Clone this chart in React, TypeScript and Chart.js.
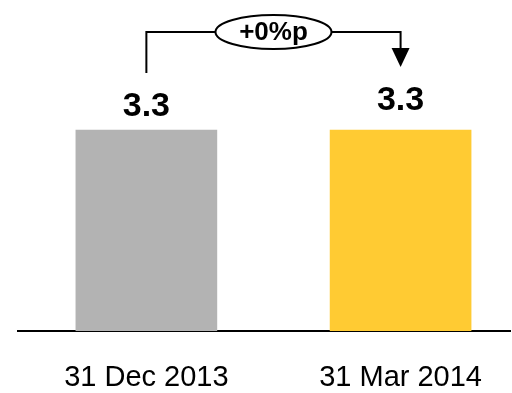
import React, { useEffect, useRef } from 'react';
import { Chart, registerables } from 'chart.js';

Chart.register(...registerables);

const categories = ['31 Dec 2013', '31 Mar 2014'];
const values = [3.3, 3.3];
const barColors = ['#B3B3B3', '#FFCB33'];
const changeLabel = '+0%p';

const FONT = '"Liberation Sans", Arial, Helvetica, sans-serif';

export default function App() {
  const ref = useRef<HTMLCanvasElement>(null);

  useEffect(() => {
    if (!ref.current) return;
    const labelLift = [14, 20];
    const annot = {
      id: 'annot',
      afterDatasetsDraw(chart: any) {
        const ctx = chart.ctx as CanvasRenderingContext2D;
        const meta = chart.getDatasetMeta(0);
        const tops: number[] = [];
        ctx.save();
        ctx.font = `bold 34px ${FONT}`;
        ctx.fillStyle = '#000';
        ctx.textAlign = 'center';
        ctx.textBaseline = 'alphabetic';
        meta.data.forEach((bar: any, i: number) => {
          const y = bar.y - labelLift[i];
          ctx.fillText(values[i].toFixed(1), bar.x, y);
          tops.push(y - 25);
        });
        const x0 = meta.data[0].x;
        const x1 = meta.data[1].x;
        const yStart = tops[0] - 18;
        const yTip = tops[1] - 18;
        const yLine = 32;
        const cx = (x0 + x1) / 2;
        const rx = 58;
        const ry = 17;
        ctx.strokeStyle = '#000';
        ctx.lineWidth = 2;
        ctx.beginPath();
        ctx.moveTo(x0, yStart);
        ctx.lineTo(x0, yLine);
        ctx.lineTo(cx - rx, yLine);
        ctx.moveTo(cx + rx, yLine);
        ctx.lineTo(x1, yLine);
        ctx.lineTo(x1, yTip - 18);
        ctx.stroke();
        ctx.beginPath();
        ctx.moveTo(x1 - 9, yTip - 19);
        ctx.lineTo(x1 + 9, yTip - 19);
        ctx.lineTo(x1, yTip);
        ctx.closePath();
        ctx.fill();
        ctx.beginPath();
        ctx.ellipse(cx, yLine, rx, ry, 0, 0, Math.PI * 2);
        ctx.fillStyle = '#fff';
        ctx.fill();
        ctx.stroke();
        ctx.fillStyle = '#000';
        ctx.font = `bold 26px ${FONT}`;
        ctx.textBaseline = 'middle';
        ctx.fillText(changeLabel, cx, yLine + 1);
        ctx.restore();
      },
    };

    const chart = new Chart(ref.current, {
      type: 'bar',
      data: {
        datasets: [
          {
            data: values.map((v, i) => ({ x: i, y: v })),
            backgroundColor: barColors,
            barThickness: 141,
          } as any,
        ],
      },
      options: {
        animation: false,
        responsive: false,
        devicePixelRatio: 1,
        layout: { padding: { left: 18, right: 0, top: 26.5, bottom: 0 } },
        plugins: { legend: { display: false }, tooltip: { enabled: false } },
        scales: {
          x: {
            type: 'linear',
            offset: false,
            min: -0.505,
            max: 1.433,
            afterBuildTicks: (s: any) => {
              s.ticks = categories.map((_, i) => ({ value: i }));
            },
            afterFit: (s: any) => {
              s.height = 62;
            },
            ticks: {
              callback: (v: any) => categories[v] ?? '',
              font: { size: 29, family: FONT },
              color: '#000',
              padding: 30,
              maxRotation: 0,
              autoSkip: false,
            },
            grid: { display: false, drawTicks: false, offset: false },
            border: { display: true, color: '#000', width: 2 },
          },
          y: { display: false, min: 0, max: 5 },
        },
      } as any,
      plugins: [annot],
    });
    return () => chart.destroy();
  }, []);

  return (
    <div style={{ position: 'fixed', left: 0, top: 0, width: 512, height: 393, overflow: 'hidden', background: '#fff' }}>
      <canvas ref={ref} width={512} height={393} style={{ display: 'block' }} />
    </div>
  );
}
